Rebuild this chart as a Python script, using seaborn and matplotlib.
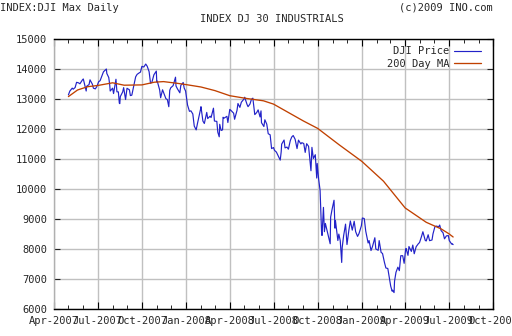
import matplotlib
matplotlib.use("Agg")
import matplotlib.pyplot as plt
import matplotlib.dates as mdates
import pandas as pd
import seaborn as sns

price_dates = [
 "2007-05-01","2007-05-04","2007-05-09","2007-05-11","2007-05-15","2007-05-18","2007-05-22","2007-05-25","2007-05-30",
 "2007-06-01","2007-06-07","2007-06-08","2007-06-13","2007-06-15","2007-06-20","2007-06-22","2007-06-26","2007-06-29",
 "2007-07-03","2007-07-06","2007-07-12","2007-07-13","2007-07-19","2007-07-20","2007-07-24","2007-07-26","2007-07-27",
 "2007-08-01","2007-08-03","2007-08-08","2007-08-10","2007-08-13","2007-08-15","2007-08-16","2007-08-17","2007-08-22",
 "2007-08-24","2007-08-28","2007-08-31","2007-09-05","2007-09-07","2007-09-10","2007-09-14","2007-09-18","2007-09-21",
 "2007-09-26","2007-09-28","2007-10-01","2007-10-05","2007-10-09","2007-10-12","2007-10-16","2007-10-19","2007-10-22",
 "2007-10-26","2007-10-31","2007-11-01","2007-11-02","2007-11-07","2007-11-09","2007-11-13","2007-11-16","2007-11-20",
 "2007-11-23","2007-11-26","2007-11-28","2007-11-30","2007-12-05","2007-12-10","2007-12-11","2007-12-14","2007-12-19",
 "2007-12-21","2007-12-26","2007-12-28","2007-12-31","2008-01-04","2008-01-08","2008-01-11","2008-01-15","2008-01-18",
 "2008-01-22","2008-01-25","2008-01-31","2008-02-01","2008-02-05","2008-02-08","2008-02-13","2008-02-15","2008-02-20",
 "2008-02-22","2008-02-27","2008-02-29","2008-03-05","2008-03-07","2008-03-10","2008-03-11","2008-03-14","2008-03-17",
 "2008-03-18","2008-03-20","2008-03-26","2008-03-28","2008-04-01","2008-04-04","2008-04-09","2008-04-11","2008-04-16",
 "2008-04-18","2008-04-22","2008-04-25","2008-05-01","2008-05-02","2008-05-07","2008-05-09","2008-05-13","2008-05-16",
 "2008-05-19","2008-05-23","2008-05-27","2008-05-30","2008-06-03","2008-06-05","2008-06-06","2008-06-11","2008-06-13",
 "2008-06-17","2008-06-20","2008-06-24","2008-06-27","2008-07-01","2008-07-03","2008-07-07","2008-07-11","2008-07-15",
 "2008-07-17","2008-07-18","2008-07-23","2008-07-25","2008-07-29","2008-08-01","2008-08-05","2008-08-08","2008-08-11",
 "2008-08-15","2008-08-19","2008-08-22","2008-08-27","2008-08-29","2008-09-02","2008-09-05","2008-09-08","2008-09-12",
 "2008-09-15","2008-09-17","2008-09-19","2008-09-22","2008-09-26","2008-09-29","2008-09-30","2008-10-03","2008-10-06",
 "2008-10-09","2008-10-10","2008-10-13","2008-10-15","2008-10-17","2008-10-22","2008-10-24","2008-10-27","2008-10-28",
 "2008-10-31","2008-11-04","2008-11-06","2008-11-07","2008-11-12","2008-11-14","2008-11-17","2008-11-20","2008-11-21",
 "2008-11-24","2008-11-28","2008-12-01","2008-12-05","2008-12-08","2008-12-12","2008-12-16","2008-12-19","2008-12-23",
 "2008-12-26","2008-12-31","2009-01-02","2009-01-06","2009-01-09","2009-01-14","2009-01-16","2009-01-20","2009-01-23",
 "2009-01-28","2009-01-30","2009-02-04","2009-02-06","2009-02-10","2009-02-13","2009-02-17","2009-02-20","2009-02-24",
 "2009-02-27","2009-03-02","2009-03-05","2009-03-06","2009-03-09","2009-03-10","2009-03-13","2009-03-17","2009-03-20",
 "2009-03-23","2009-03-27","2009-03-30","2009-04-02","2009-04-03","2009-04-07","2009-04-09","2009-04-14","2009-04-17",
 "2009-04-20","2009-04-24","2009-04-29","2009-05-01","2009-05-05","2009-05-08","2009-05-13","2009-05-15","2009-05-19",
 "2009-05-22","2009-05-27","2009-05-29","2009-06-02","2009-06-05","2009-06-10","2009-06-12","2009-06-15","2009-06-19",
 "2009-06-22","2009-06-26","2009-06-30","2009-07-02","2009-07-07","2009-07-08","2009-07-10",
]
price_values = [
 13136,13264,13362,13327,13383,13556,13539,13507,13633,
 13668,13266,13424,13482,13639,13489,13361,13337,13409,
 13577,13611,13862,13907,14000,13851,13716,13473,13265,
 13362,13182,13658,13240,13237,12861,12845,13079,13236,
 13379,12983,13358,13306,13114,13127,13442,13739,13821,
 13878,13896,14088,14066,14165,14093,13912,13522,13567,
 13807,13930,13567,13595,13300,13042,13307,13177,13010,
 12981,12743,13289,13372,13445,13727,13433,13339,13207,
 13451,13551,13366,13265,12800,12589,12606,12501,12099,
 11971,12207,12650,12743,12265,12183,12553,12348,12427,
 12381,12694,12266,12254,11894,11740,12157,11951,11972,
 12392,12361,12422,12216,12654,12610,12527,12325,12620,
 12849,12721,12891,13010,13058,12814,12745,12832,12986,
 13028,12480,12548,12638,12402,12604,12210,12083,12308,
 12160,11843,11807,11347,11382,11289,11231,11101,10963,
 11239,11496,11632,11371,11397,11327,11616,11734,11782,
 11660,11348,11628,11502,11544,11516,11220,11511,11422,
 10918,10609,11388,11016,11143,10365,10851,10325,9955,
 8579,8451,9387,8577,8852,8519,8378,8175,9065,
 9325,9625,8695,8943,8283,8497,8273,7552,8046,
 8443,8829,8149,8635,8934,8629,8924,8579,8419,
 8515,8776,9034,9015,8599,8200,8281,7949,8077,
 8375,8001,7957,8280,7888,7850,7552,7366,7351,
 7063,6763,6594,6627,6547,6926,7224,7395,7279,
 7776,7776,7523,7978,8018,7789,8083,7920,8131,
 7842,8076,8185,8212,8410,8575,8284,8268,8475,
 8277,8300,8500,8741,8764,8740,8799,8612,8540,
 8339,8438,8447,8280,8163,8178,8146,
]

ma_dates = [
 "2007-05-01","2007-05-20","2007-06-10","2007-07-01","2007-08-01","2007-08-25","2007-10-01",
 "2007-10-27","2007-11-15","2007-12-15","2008-01-01","2008-02-01","2008-03-01","2008-04-01",
 "2008-05-05","2008-06-10","2008-07-01","2008-08-01","2008-09-01","2008-10-01","2008-11-15",
 "2009-01-01","2009-02-15","2009-04-01","2009-05-15","2009-06-15","2009-07-01","2009-07-10",
]
ma_values = [
 13080,13300,13410,13450,13540,13460,13470,
 13560,13580,13520,13480,13400,13280,13110,
 13020,12940,12830,12550,12270,12020,11470,
 10920,10260,9370,8890,8670,8510,8400,
]

y_ticks = [6000, 7000, 8000, 9000, 10000, 11000, 12000, 13000, 14000, 15000]

sns.set_style("white")
plt.rcParams['font.family'] = ['DejaVu Sans Mono']

price_df = pd.DataFrame({"date": pd.to_datetime(price_dates), "value": price_values})
ma_df = pd.DataFrame({"date": pd.to_datetime(ma_dates), "value": ma_values})

fig = plt.figure(figsize=(5.12, 3.36), dpi=100)
ax = fig.add_axes([54/512, 1-309/336, (493-54)/512, (309-39)/336])

sns.lineplot(data=price_df, x="date", y="value", ax=ax, color="#2222c8", linewidth=0.85, label="DJI Price")
sns.lineplot(data=ma_df, x="date", y="value", ax=ax, color="#c04000", linewidth=0.95, label="200 Day MA")

ax.set_xlim(pd.Timestamp("2007-04-01"), pd.Timestamp("2009-10-01"))
ax.set_ylim(6000, 15000)
ax.set_yticks(y_ticks)
ax.set_yticklabels([str(v) for v in y_ticks], fontsize=7.5)
ax.xaxis.set_major_locator(mdates.MonthLocator(bymonth=[1, 4, 7, 10]))
ax.xaxis.set_minor_locator(mdates.MonthLocator())
ax.xaxis.set_major_formatter(mdates.DateFormatter("%b-%Y"))
for lbl in ax.get_xticklabels():
    lbl.set_fontsize(7.5)
ax.set_xlabel("")
ax.set_ylabel("")

ax.grid(True, which="major", color="#c0c0c0", linewidth=1.0)
ax.set_axisbelow(True)
ax.tick_params(axis="x", which="both", direction="in", top=True, bottom=True, color="black",
               labelsize=7.5, pad=5)
ax.tick_params(axis="x", which="major", length=5)
ax.tick_params(axis="x", which="minor", length=3)
ax.tick_params(axis="y", which="major", direction="in", left=True, right=True, length=4,
               labelsize=7.5, pad=5)
for side in ["top", "right", "bottom"]:
    ax.spines[side].set_color("black")
    ax.spines[side].set_linewidth(1.0)
ax.spines["left"].set_color("#b0b0b0")
ax.spines["left"].set_linewidth(1.0)

ax.legend(loc="upper right", frameon=False, markerfirst=False, fontsize=7.5,
          handlelength=2.6, handletextpad=0.5, labelspacing=0.25,
          borderaxespad=0.3, bbox_to_anchor=(0.99, 1.0))

fig.text(0.0, 1-8/336, "INDEX:DJI Max Daily", fontsize=7.5, ha="left", va="center")
fig.text(493/512, 1-8/336, "(c)2009 INO.com", fontsize=7.5, ha="right", va="center")
fig.text(272/512, 1-19/336, "INDEX DJ 30 INDUSTRIALS", fontsize=7.5, ha="center", va="center")

fig.savefig("out.png", dpi=100, facecolor="white")
